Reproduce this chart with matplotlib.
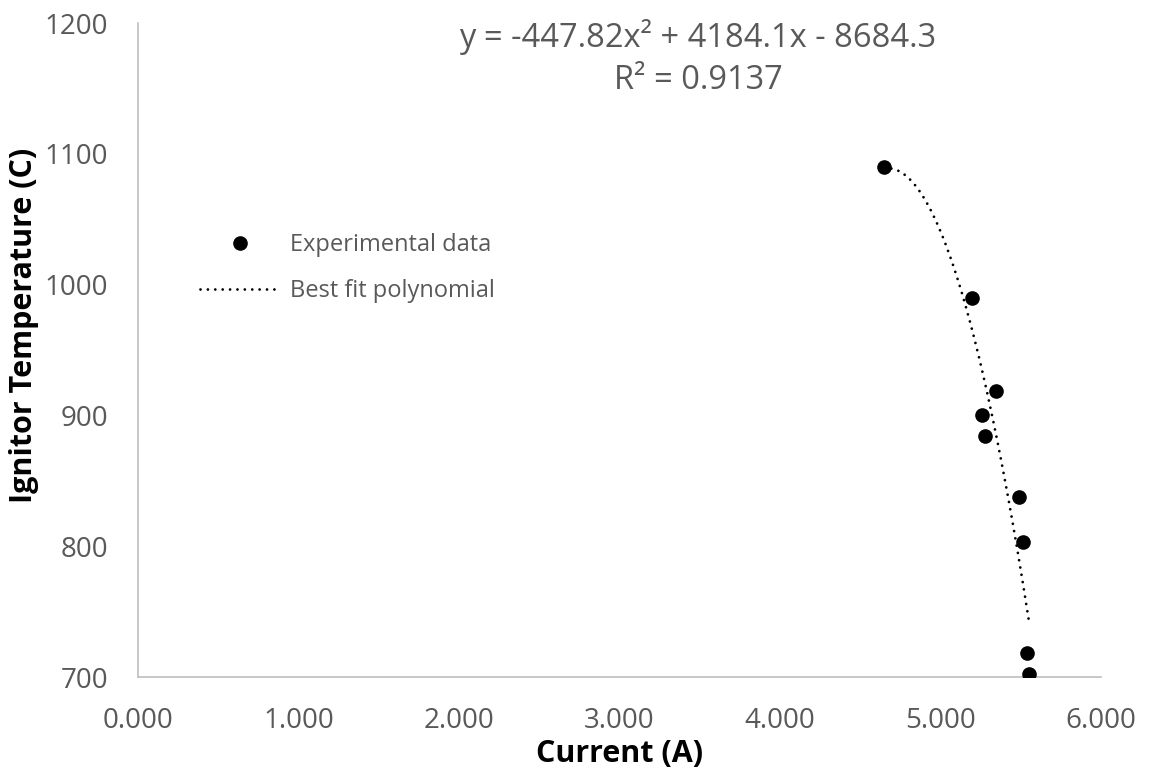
import numpy as np
import matplotlib
matplotlib.use("Agg")
import matplotlib.pyplot as plt

# measured ignitor temperature vs current
current = [4.648, 5.194, 5.346, 5.261, 5.279, 5.491, 5.516, 5.541, 5.553]
temperature = [1090, 990, 919, 900, 884, 838, 803, 718, 702]

# quadratic trendline coefficients (a*x^2 + b*x + c) and R^2
coef = [-447.82, 4184.1, -8684.3]
r_squared = 0.9137

grey = "#595959"
plt.rcParams["font.family"] = ["Open Sans", "DejaVu Sans"]

fig = plt.figure(figsize=(11.5, 7.78), dpi=100)
ax = fig.add_axes([0.12, 0.1298, 0.8374, 0.8406])

xfit = np.linspace(min(current), max(current), 200)
yfit = np.polyval(coef, xfit)

ax.plot(current, temperature, "o", color="black", markersize=9.5,
        label="Experimental data", zorder=3)
ax.plot(xfit, yfit, color="black", linewidth=2.0,
        linestyle=(0, (0.01, 2.65)), dash_capstyle="round",
        label="Best fit polynomial", zorder=2)

ax.set_xlim(0, 6)
ax.set_ylim(700, 1200)
ax.set_xticks(np.arange(0, 7, 1))
ax.set_xticklabels([f"{v:.3f}" for v in np.arange(0, 7, 1)])
ax.set_yticks(np.arange(700, 1201, 100))
ax.tick_params(length=0, labelsize=20, labelcolor=grey, pad=21.5)

for side in ["top", "right"]:
    ax.spines[side].set_visible(False)
for side in ["left", "bottom"]:
    ax.spines[side].set_color("#bfbfbf")
    ax.spines[side].set_linewidth(1.2)

ax.set_xlabel("Current (A)", fontsize=22, fontweight="bold")
ax.set_ylabel("Ignitor Temperature (C)", fontsize=22, fontweight="bold")
ax.xaxis.set_label_coords(0.5, -0.095)
ax.yaxis.set_label_coords(-0.103, 0.538)

eq = (f"y = {coef[0]}x\u00b2 + {coef[1]}x - {abs(coef[2])}\n"
      f"R\u00b2 = {r_squared}")
fig.text(698 / 1150, 1 - 58 / 778, eq, ha="center", va="center",
         fontsize=23.5, color=grey, linespacing=1.38)

fig.legend(loc="upper left", bbox_to_anchor=(200 / 1150, 1 - 233 / 778),
           frameon=False, fontsize=17, labelcolor=grey,
           borderpad=0, borderaxespad=0,
           handlelength=3.4, handletextpad=0.4, labelspacing=0.95)

fig.savefig("out.png", dpi=100)
